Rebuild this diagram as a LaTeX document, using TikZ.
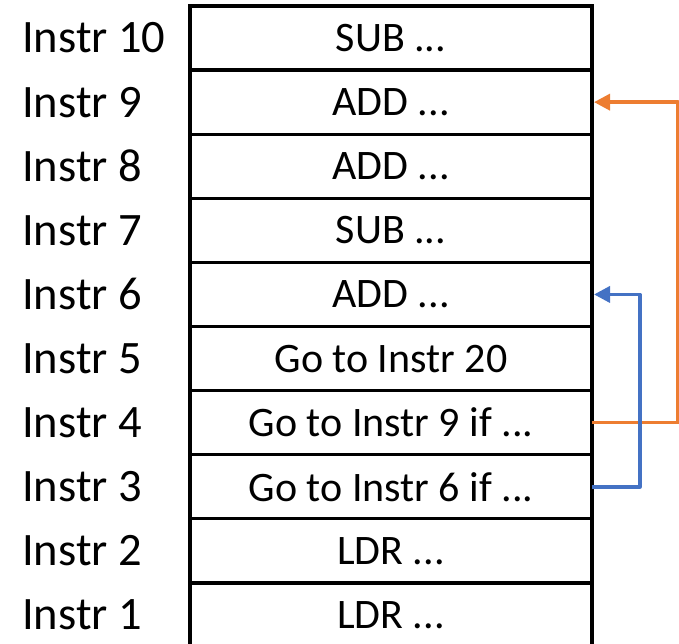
\documentclass[tikz,border=0pt]{standalone}
\usepackage{fontspec}
\setmainfont{Carlito}
\usetikzlibrary{arrows.meta}
\definecolor{orng}{HTML}{ED7D31}
\definecolor{blu}{HTML}{4472C4}
\begin{document}
\begin{tikzpicture}[x=1pt,y=-1pt,
  cell/.style={draw=black,line width=3.2pt,minimum width=402pt,minimum height=64.1pt,inner sep=0pt,outer sep=0pt,font=\fontsize{42}{50}\selectfont,anchor=north west},
  lbl/.style={anchor=west,inner sep=0pt,font=\fontsize{46.5}{55}\selectfont},
  jump/.style={line width=3.6pt,line join=round,-{Triangle[length=16pt,width=16pt]},shorten >=2pt}]
\useasboundingbox (0,0) rectangle (679,644);
\begin{scope}
\clip (0,0) rectangle (679,644);
\node[cell] (r10) at (190,6) {SUB ...};
\node[cell] (r9) at (190,70.1) {ADD ...};
\node[cell] (r8) at (190,134.2) {ADD ...};
\node[cell] (r7) at (190,198.3) {SUB ...};
\node[cell] (r6) at (190,262.4) {ADD ...};
\node[cell] (r5) at (190,326.5) {Go to Instr 20};
\node[cell] (r4) at (190,390.6) {Go to Instr 9 if ...};
\node[cell] (r3) at (190,454.7) {Go to Instr 6 if ...};
\node[cell] (r2) at (190,518.8) {LDR ...};
\node[cell] (r1) at (190,582.9) {LDR ...};
\end{scope}
\foreach \i/\t in {10/Instr 10,9/Instr 9,8/Instr 8,7/Instr 7,6/Instr 6,5/Instr 5,4/Instr 4,3/Instr 3,2/Instr 2,1/Instr 1}{
  \node[lbl] (l\i) at (22,0 |- r\i.center) {\t};
}
\coordinate (oc) at (678,0);
\coordinate (bc) at (640,0);
\draw[jump,orng] (r4.east) -- (r4.east -| oc) -- (r9.east -| oc) -- (r9.east);
\draw[jump,blu] (r3.east) -- (r3.east -| bc) -- (r6.east -| bc) -- (r6.east);
\end{tikzpicture}
\end{document}
